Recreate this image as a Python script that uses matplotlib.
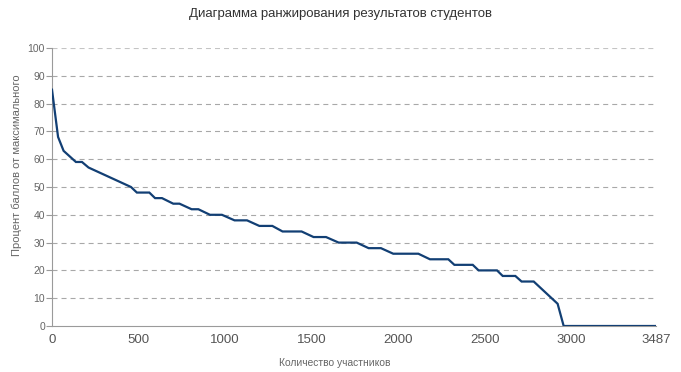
import matplotlib
matplotlib.use("Agg")
import matplotlib.pyplot as plt

plt.rcParams['font.family'] = ['Liberation Sans', 'DejaVu Sans']
plt.rcParams['lines.scale_dashes'] = False

# Data
participants = [0, 35, 67, 138, 173, 211, 456, 490, 562, 595, 635, 700, 736, 806, 845,
                912, 981, 1054, 1126, 1197, 1272, 1331, 1441, 1510, 1582, 1655, 1759,
                1828, 1899, 1970, 2115, 2182, 2288, 2323, 2429, 2463, 2569, 2602, 2675,
                2711, 2781, 2919, 2954, 3487]
percent = [85, 68, 63, 59, 59, 57, 50, 48, 48, 46, 46, 44, 44, 42, 42,
           40, 40, 38, 38, 36, 36, 34, 34, 32, 32, 30, 30,
           28, 28, 26, 26, 24, 24, 22, 22, 20, 20, 18, 18,
           16, 16, 8, 0, 0]
x_ticks = [0, 500, 1000, 1500, 2000, 2500, 3000, 3487]
y_ticks = [0, 10, 20, 30, 40, 50, 60, 70, 80, 90, 100]

title = "Диаграмма ранжирования результатов студентов"
xlabel = "Количество участников"
ylabel = "Процент баллов от максимального"

W, H = 681, 372
fig = plt.figure(figsize=(W/100, H/100), dpi=100)
ax = fig.add_axes([52/W, 1-326/H, (656-52)/W, (326-48)/H])

for yv in y_ticks[1:]:
    ax.axhline(yv, color='#c4c4c4' if yv == 100 else '#a8a8a8', lw=0.8,
               linestyle=(0, (3.6, 2.9)), zorder=1)

ax.plot(participants, percent, color='#123f74', lw=1.6, zorder=3,
        solid_joinstyle='miter')

ax.set_xlim(0, 3487)
ax.set_ylim(0, 100)
ax.set_xticks(x_ticks)
ax.set_xticklabels([str(v) for v in x_ticks])
ax.set_yticks(y_ticks)

for s in ['top', 'right']:
    ax.spines[s].set_visible(False)
for s in ['left', 'bottom']:
    ax.spines[s].set_color('#9a9a9a')
    ax.spines[s].set_linewidth(0.8)

ax.tick_params(axis='y', length=4, width=0.8, color='#9a9a9a', labelsize=7.5,
               labelcolor='#666666', pad=1)
ax.tick_params(axis='x', length=0, labelsize=9.5, labelcolor='#555555', pad=6)

fig.text(335/W, 1-363/H, xlabel, ha='center', va='center', fontsize=7.4, color='#666666')
fig.text(17/W, 1-165/H, ylabel, ha='center', va='center', rotation=90,
         fontsize=8, color='#666666')
fig.text(0.5, 1-14/H, title, ha='center', va='center', fontsize=9.5, color='#333333')

fig.savefig("out.png", dpi=100)
